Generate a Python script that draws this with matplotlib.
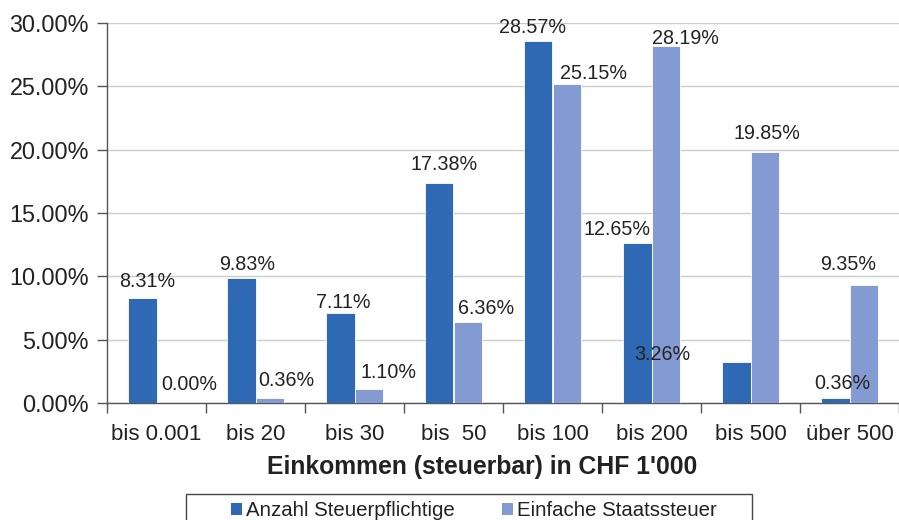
import matplotlib
matplotlib.use("Agg")
import matplotlib.pyplot as plt
import numpy as np
from matplotlib.ticker import FuncFormatter, FixedLocator
from matplotlib.patches import Rectangle

categories = ["bis 0.001", "bis 20", "bis 30", "bis  50", "bis 100", "bis 200", "bis 500", "über 500"]
anzahl = [8.31, 9.83, 7.11, 17.38, 28.57, 12.65, 3.26, 0.36]
staatssteuer = [0.00, 0.36, 1.10, 6.36, 25.15, 28.19, 19.85, 9.35]
series_names = ["Anzahl Steuerpflichtige", "Einfache Staatssteuer"]
xlabel = "Einkommen (steuerbar) in CHF 1'000"

# label offsets in pixels (style only)
off_dark = [(5, 11), (6, 8), (3, 5), (5, 13), (-6, 8), (-20, 8), (-74, 2), (7, 9)]
off_light = [(19, 13), (17, 12), (20, 11), (19, 8), (27, 5), (20, 2), (2, 13), (-15, 15)]

dark = "#2F69B3"
light = "#839BD2"
font = "Liberation Sans"
plt.rcParams["font.family"] = [font, "DejaVu Sans"]

W, H = 899, 520
fig = plt.figure(figsize=(W/100, H/100), dpi=100)
ax = fig.add_axes([107/W, 1-403/H, 792/W, 380/H])

x = np.arange(len(categories))
w = 0.283
b1 = ax.bar(x - w/2, anzahl, w, color=dark, edgecolor="white", linewidth=0.6, label=series_names[0], zorder=3)
b2 = ax.bar(x + w/2, staatssteuer, w, color=light, edgecolor="white", linewidth=0.6, label=series_names[1], zorder=3)

for xi, v, (dx, dy) in zip(x - w/2, anzahl, off_dark):
    ax.annotate(f"{v:.2f}%", (xi, v), xytext=(dx, dy), textcoords="offset pixels",
                ha="center", va="baseline", fontsize=14.2, color="#222222")
for xi, v, (dx, dy) in zip(x + w/2, staatssteuer, off_light):
    ax.annotate(f"{v:.2f}%", (xi, v), xytext=(dx, dy), textcoords="offset pixels",
                ha="center", va="baseline", fontsize=14.2, color="#222222")

ax.set_xlim(-0.5, len(categories) - 0.5)
ax.set_ylim(0, 30)
ax.set_yticks(np.arange(0, 30.01, 5))
ax.yaxis.set_major_formatter(FuncFormatter(lambda v, p: f"{v:.2f}%"))
ax.set_xticks(x)
ax.set_xticklabels(categories)
ax.xaxis.set_minor_locator(FixedLocator(np.arange(-0.5, len(categories) + 0.5, 1)))
ax.tick_params(axis="x", which="major", length=0, pad=15, labelsize=16, labelcolor="#222222")
ax.tick_params(axis="x", which="minor", length=7, width=1, color="#555555", direction="out")
ax.tick_params(axis="y", length=7, width=1, color="#555555", labelsize=16.8, labelcolor="#222222", pad=6)

ax.grid(axis="y", color="#CCCCCC", linewidth=1, zorder=0)
for s in ["top", "right"]:
    ax.spines[s].set_visible(False)
for s in ["left", "bottom"]:
    ax.spines[s].set_color("#555555")
    ax.spines[s].set_linewidth(1)
ax.set_axisbelow(True)

ax.set_xlabel(xlabel, fontsize=17.8, fontweight="bold", color="#222222", va="center", ha="center")
ax.xaxis.set_label_coords((482-107)/792, (403-467)/380)

# legend frame (extends past the bottom edge as in the reference)
fig.patches.append(Rectangle((186/W, 1-530/H), (752-186)/W, 36/H, transform=fig.transFigure,
                             facecolor="white", edgecolor="#444444", linewidth=1, clip_on=False))
leg = fig.legend(handles=[b1, b2], labels=series_names, loc="center left",
                 bbox_to_anchor=(231/W, 1-511/H), ncol=2, frameon=False,
                 fontsize=14.7, handlelength=0.55, handleheight=0.55, handletextpad=0.2,
                 columnspacing=2.3, borderpad=0, borderaxespad=0, labelcolor="#222222")
for h in leg.legend_handles:
    h.set_edgecolor("none")

fig.savefig("out.png", dpi=100)
